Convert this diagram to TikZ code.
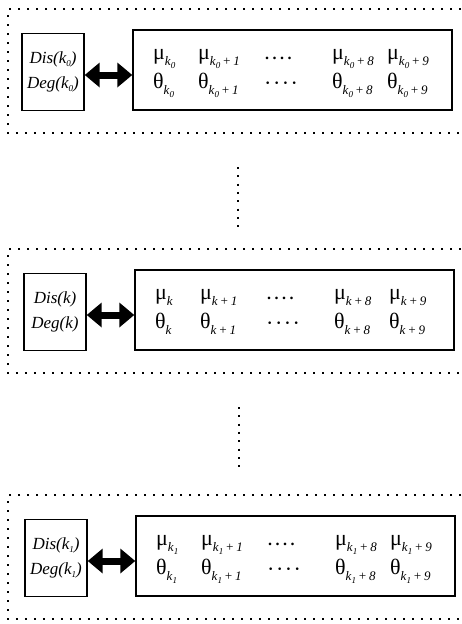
\documentclass[tikz,border=0pt]{standalone}
\usepackage{fontspec}
\setmainfont{Liberation Serif}
\usetikzlibrary{arrows.meta}
\newcommand\mysb[1]{\raisebox{-0.3em}{\fontsize{13}{13}\selectfont\itshape #1}}
\newcommand\kz[1]{\raisebox{-0.2em}{\fontsize{9}{9}\selectfont #1}}
\newcommand\fourdots[1]{#1\hspace{3.5pt}#1\hspace{3.5pt}#1\hspace{3.5pt}#1}
\tikzset{
  frame/.style={line width=1.6pt, dash pattern=on 2.2pt off 6.8pt},
  vdots/.style={line width=1.8pt, dash pattern=on 2pt off 6.3pt},
  smallbox/.style={draw, line width=1.4pt, minimum width=62pt, minimum height=77pt, inner sep=0pt,
     align=center, font=\fontsize{17}{25}\selectfont\itshape},
  bigbox/.style={draw, line width=1.4pt, minimum width=319pt, minimum height=80pt, inner sep=0pt},
  dblarrow/.style={line width=7pt, {Triangle[length=15pt,width=24pt]}-{Triangle[length=15pt,width=24pt]}},
  rowtext/.style={anchor=base west, inner sep=0pt, font=\fontsize{22}{22}\selectfont},
  dotstext/.style={anchor=base west, inner sep=0pt, font=\fontsize{16}{16}\selectfont\bfseries}
}
\newcommand\myblock[4]{%
  \draw[frame] (470,#2) -- (8,#2) -- (8,#2+124) -- (470,#2+124);
  \node[smallbox] (#1s) at (53+#3,#2+63) {Dis(#4)\\Deg(#4)};
  \node[bigbox] (#1b) at (292.5+#3,#2+61) {};
  \coordinate (#1y) at (0,#2+66);
  \draw[dblarrow] (#1s.east |- #1y) -- (#1b.west |- #1y);
  \node[rowtext] (#1m1) at (153+#3,#2+50) {μ\mysb{#4}};
  \node[rowtext] (#1m2) at (198+#3,#2+50) {μ\mysb{#4\,+\,1}};
  \node[dotstext] (#1m3) at (265+#3,#2+50) {\fourdots{.}};
  \node[rowtext] (#1m4) at (332+#3,#2+50) {μ\mysb{#4\,+\,8}};
  \node[rowtext] (#1m5) at (387+#3,#2+50) {μ\mysb{#4\,+\,9}};
  \node[rowtext] (#1t1) at (153+#3,#2+79) {θ\mysb{#4}};
  \node[rowtext] (#1t2) at (198+#3,#2+79) {θ\mysb{#4\,+\,1}};
  \node[dotstext] (#1t3) at (265+#3,#2+79) {\fourdots{·}};
  \node[rowtext] (#1t4) at (332+#3,#2+79) {θ\mysb{#4\,+\,8}};
  \node[rowtext] (#1t5) at (387+#3,#2+79) {θ\mysb{#4\,+\,9}};
}
\begin{document}
\begin{tikzpicture}[x=1pt,y=-1pt]
  \useasboundingbox[fill=white] (0,0) rectangle (462,624);
  \myblock{A}{9}{0}{k\kz{0}}
  \myblock{B}{249}{2}{k}
  \myblock{C}{495}{3}{k\kz{1}}
  \draw[vdots] (238,167) -- (238,227);
  \draw[vdots] (239,407) -- (239,467);
\end{tikzpicture}
\end{document}
